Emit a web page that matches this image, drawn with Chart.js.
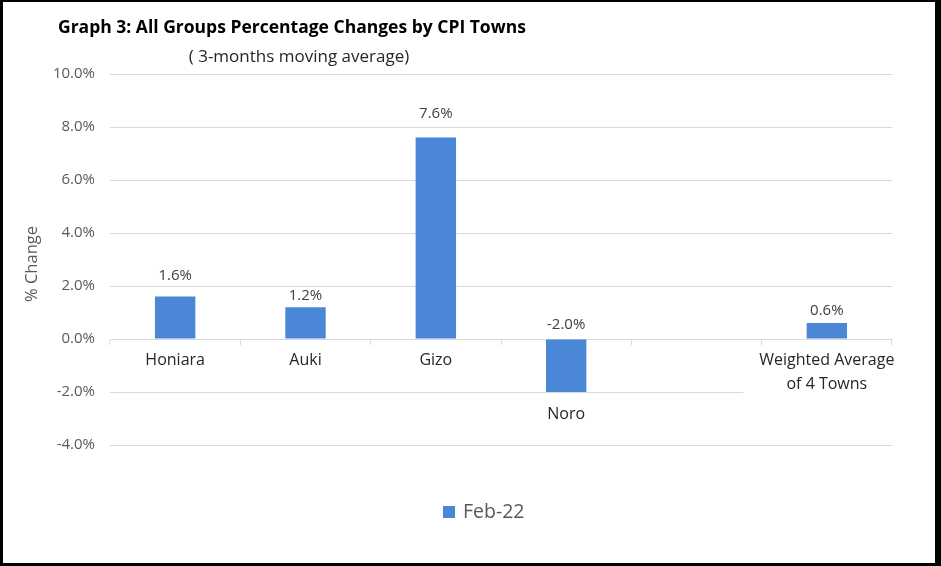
<!DOCTYPE html>
<html>
<head>
<meta charset="utf-8">
<title>Graph 3: All Groups Percentage Changes by CPI Towns</title>
<script src="https://cdn.jsdelivr.net/npm/chart.js@4.4.1/dist/chart.umd.min.js"></script>
<style>
  html, body { margin: 0; padding: 0; background: #000; }
  #frame { position: absolute; left: 3px; top: 2px; width: 932px; height: 561px; background: #fff; }
</style>
</head>
<body>
<div id="frame"><canvas id="cpiChart" width="932" height="561"></canvas></div>
<script>
// values
const towns = [['Honiara'], ['Auki'], ['Gizo'], ['Noro'], [''], ['Weighted Average', 'of 4 Towns']];
const feb22 = [1.6, 1.2, 7.6, -2.0, null, 0.6];
const seriesName = 'Feb-22';
const yMin = -4, yMax = 10, yStep = 2;

const FONT = '"Open Sans", Lato, sans-serif';
const barBlue = '#4a87d6';
// how far each value label sits off the end of its bar (Excel placed them unevenly)
const labelLift = [21, 11, 24, 15, 0, 12];

const townLabels = {
    id: 'townLabels',
    afterDatasetsDraw(chart) {
        const ctx = chart.ctx;
        const meta = chart.getDatasetMeta(0);
        ctx.save();
        meta.data.forEach((bar, i) => {
            const v = feb22[i];
            if (v === null) return;
            const top = Math.min(bar.y, bar.base);
            const bottom = Math.max(bar.y, bar.base);

            // value label
            ctx.font = `15px ${FONT}`;
            ctx.fillStyle = '#404040';
            ctx.textAlign = 'center';
            ctx.textBaseline = 'middle';
            ctx.fillText(v.toFixed(1) + '%', bar.x, top - labelLift[i]);

            // category label, under the bar or the zero line
            const lines = towns[i];
            ctx.font = `16px ${FONT}`;
            const y0 = bottom + 22;
            if (lines.length > 1) {
                const w = Math.max(...lines.map(l => ctx.measureText(l).width));
                ctx.fillStyle = '#fff';
                ctx.fillRect(bar.x - w / 2 - 16, y0 - 12, w + 32, lines.length * 24 + 4);
            }
            ctx.fillStyle = '#262626';
            lines.forEach((l, k) => ctx.fillText(l, bar.x, y0 + k * 24));
        });
        ctx.restore();
    },
    afterDraw(chart) {
        const ctx = chart.ctx;
        ctx.save();
        ctx.textBaseline = 'middle';

        ctx.font = `bold 17.5px ${FONT}`;
        ctx.fillStyle = '#000';
        ctx.textAlign = 'left';
        ctx.fillText('Graph 3: All Groups Percentage Changes by CPI Towns', 55, 26);

        ctx.font = `17px ${FONT}`;
        ctx.fillStyle = '#262626';
        ctx.textAlign = 'center';
        ctx.fillText('( 3-months moving average)', 296, 55);

        // y axis title
        ctx.save();
        ctx.translate(29, 262);
        ctx.rotate(-Math.PI / 2);
        ctx.font = `16.5px ${FONT}`;
        ctx.fillStyle = '#595959';
        ctx.fillText('% Change', 0, 0);
        ctx.restore();

        // legend
        ctx.fillStyle = barBlue;
        ctx.fillRect(440, 504, 12, 12);
        ctx.font = `19.5px ${FONT}`;
        ctx.fillStyle = '#595959';
        ctx.textAlign = 'left';
        ctx.fillText(seriesName, 460, 510);
        ctx.restore();
    }
};

const ctx = document.getElementById('cpiChart').getContext('2d');
new Chart(ctx, {
    type: 'bar',
    data: {
        labels: towns,
        datasets: [{
            label: seriesName,
            data: feb22,
            backgroundColor: barBlue,
            barPercentage: 0.31,
            categoryPercentage: 1.0
        }]
    },
    options: {
        responsive: false,
        animation: false,
        layout: { padding: { top: 72, right: 43, bottom: 118, left: 0 } },
        plugins: {
            legend: { display: false },
            title: { display: false },
            tooltip: { enabled: false }
        },
        scales: {
            x: {
                position: { y: 0 },
                offset: true,
                ticks: { display: false },
                grid: { offset: true, drawOnChartArea: false, tickLength: 5, color: '#d9d9d9' },
                border: { display: true, color: '#d9d9d9' }
            },
            y: {
                min: yMin,
                max: yMax,
                ticks: {
                    stepSize: yStep,
                    padding: 15,
                    color: '#595959',
                    font: { family: FONT, size: 15 },
                    callback: value => value.toFixed(1) + '%'
                },
                grid: { color: '#d9d9d9', drawTicks: false },
                border: { display: false },
                afterFit: scale => { scale.width = 107; }
            }
        }
    },
    plugins: [townLabels]
});
</script>
</body>
</html>
